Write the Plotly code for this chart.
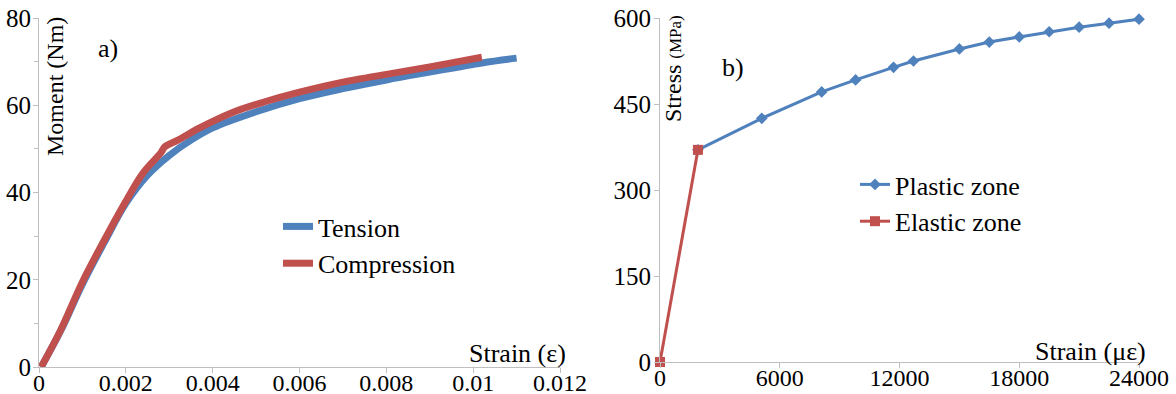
import plotly.graph_objects as go

W, H = 1176, 394
L, R, T, B = 39, 1139, 18, 367   # plot-area pixel box
def px(x):
    return (x - L) / (R - L)
def py(y):
    return (B - y) / (B - T)

FONT = "Liberation Serif, Times New Roman, serif"

# ---- Panel a) data : moment vs strain ----
tension_strain = [0.00005, 0.0005, 0.001, 0.0015, 0.002, 0.0025, 0.003, 0.0035, 0.004,
                  0.005, 0.006, 0.007, 0.008, 0.009, 0.0102, 0.011]
tension_moment = [0, 8.3, 19.0, 28.5, 37.5, 44.0, 48.5, 52.0, 54.8,
                  58.5, 61.5, 63.8, 65.8, 67.6, 69.7, 70.8]

compression_strain = [0.00005, 0.0005, 0.001, 0.0015, 0.002, 0.0024, 0.0028, 0.0029, 0.0032,
                      0.0037, 0.0045, 0.0052, 0.006, 0.007, 0.0083, 0.009, 0.0095, 0.0102]
compression_moment = [0, 8.5, 19.5, 29.0, 38.0, 44.5, 49.0, 50.5, 52.0,
                      54.8, 58.5, 60.8, 63.0, 65.3, 67.6, 68.8, 69.7, 71.0]

a_xticks = [0, 0.002, 0.004, 0.006, 0.008, 0.01, 0.012]
a_xticklabels = ["0", "0.002", "0.004", "0.006", "0.008", "0.01", "0.012"]
a_yticks = [0, 20, 40, 60, 80]

# ---- Panel b) data : stress vs strain ----
plastic_strain = [1900, 5100, 8100, 9800, 11700, 12700, 15000, 16500, 18000, 19500, 21000, 22500, 24000]
plastic_stress = [370, 425, 471, 492, 514, 525, 546, 558, 567, 576, 584, 591, 598]

elastic_strain = [0, 1900]
elastic_stress = [0, 370]

b_xticks = [0, 6000, 12000, 18000, 24000]
b_xticklabels = ["0", "6000", "12000", "18000", "24000"]
b_yticks = [0, 150, 300, 450, 600]

BLUE = "#4f81bd"
RED = "#c0504d"
AXIS = "#bfbfbf"

fig = go.Figure()
fig.add_trace(go.Scatter(x=tension_strain, y=tension_moment, mode="lines", name="Tension",
                         line=dict(color=BLUE, width=7, shape="spline"),
                         xaxis="x", yaxis="y", legend="legend"))
fig.add_trace(go.Scatter(x=compression_strain, y=compression_moment, mode="lines", name="Compression",
                         line=dict(color=RED, width=7, shape="spline"),
                         xaxis="x", yaxis="y", legend="legend"))
fig.add_trace(go.Scatter(x=plastic_strain, y=plastic_stress, mode="lines+markers", name="Plastic zone",
                         line=dict(color=BLUE, width=3),
                         marker=dict(symbol="diamond", size=9, color=BLUE),
                         cliponaxis=False, xaxis="x2", yaxis="y2", legend="legend2"))
fig.add_trace(go.Scatter(x=elastic_strain, y=elastic_stress, mode="lines+markers", name="Elastic zone",
                         line=dict(color=RED, width=3),
                         marker=dict(symbol="square", size=10, color=RED),
                         cliponaxis=False, xaxis="x2", yaxis="y2", legend="legend2"))

tickfont = dict(family=FONT, size=25, color="black")
xtickfont = dict(family=FONT, size=24, color="black")
common = dict(showline=True, linecolor=AXIS, linewidth=1, ticks="outside", ticklen=5,
              tickcolor=AXIS, showgrid=False, zeroline=False, automargin=False)

fig.update_layout(
    width=W, height=H, margin=dict(l=L, r=W - R, t=T, b=H - B, pad=0, autoexpand=False),
    paper_bgcolor="white", plot_bgcolor="white",
    font=dict(family=FONT, color="black"),
    xaxis=dict(domain=[0, px(560)], range=[0, 0.012], anchor="y",
               tickmode="array", tickvals=a_xticks, ticktext=a_xticklabels,
               ticklabelstandoff=-11, tickfont=xtickfont, **common),
    yaxis=dict(domain=[0, 1], range=[0, 80], anchor="x",
               tickmode="array", tickvals=a_yticks, ticklabelstandoff=-3, tickfont=tickfont,
               minor=dict(ticks="outside", ticklen=4, tickcolor=AXIS, dtick=10, showgrid=False),
               **common),
    xaxis2=dict(domain=[px(660), 1], range=[0, 24000], anchor="y2",
                tickmode="array", tickvals=b_xticks, ticktext=b_xticklabels,
                ticklabelstandoff=-11, tickfont=xtickfont, **common),
    yaxis2=dict(domain=[py(362), 1], range=[0, 600], anchor="x2",
                tickmode="array", tickvals=b_yticks, ticklabelstandoff=-2, tickfont=tickfont,
                **common),
    legend=dict(x=px(278), y=py(203), xanchor="left", yanchor="top",
                font=dict(family=FONT, size=26, color="black"), bgcolor="rgba(0,0,0,0)"),
    legend2=dict(x=px(855), y=py(161), xanchor="left", yanchor="top",
                 font=dict(family=FONT, size=26, color="black"), bgcolor="rgba(0,0,0,0)"),
    showlegend=True,
)

ann = [
    dict(text="a)", x=px(108), y=py(48)),
    dict(text="b)", x=px(733), y=py(67)),
    dict(text="Moment (Nm)", x=px(55), y=py(87), textangle=-90, size=24),
    dict(text="Stress <span style='font-size:17px'>(MPa)</span>", x=px(673), y=py(69), textangle=-90, size=24),
    dict(text="Strain (ε)", x=px(517), y=py(353)),
    dict(text="Strain (με)", x=px(1090), y=py(351)),
]
for a in ann:
    fig.add_annotation(text=a["text"], x=a["x"], y=a["y"], xref="paper", yref="paper",
                       xanchor="center", yanchor="middle", showarrow=False,
                       textangle=a.get("textangle", 0),
                       font=dict(family=FONT, size=a.get("size", 26), color="black"))

fig.write_html("out.html", config={"displayModeBar": False},
               post_script="document.body.style.margin='0';document.body.style.overflow='hidden';")
